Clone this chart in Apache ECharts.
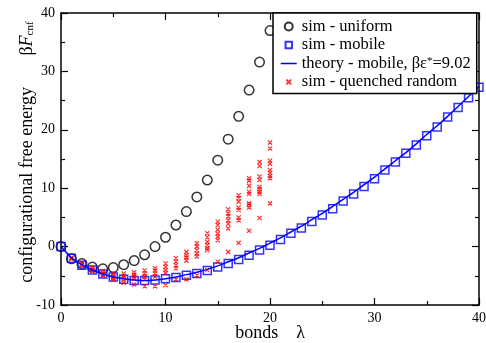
<!DOCTYPE html>
<html>
<head>
<meta charset="utf-8">
<script src="https://cdn.jsdelivr.net/npm/echarts@6/dist/echarts.min.js"></script>
<style>
  html, body { margin: 0; padding: 0; background: #fff; }
  #chart { width: 486px; height: 343px; }
</style>
</head>
<body>
<div id="chart"></div>
<script>
// sim - uniform, bonds 0..20
var uniformX = [0, 1, 2, 3, 4, 5, 6, 7, 8, 9, 10, 11, 12, 13, 14, 15, 16, 17, 18, 19, 20];
var uniformY = [0, -2.1, -2.9, -3.5, -3.8, -3.6, -3.1, -2.4, -1.4, 0, 1.6, 3.7, 6.0, 8.5, 11.4, 14.8, 18.4, 22.3, 26.8, 31.6, 37.0];

// sim - mobile, bonds 0..40
var mobileY = [0, -2.0, -3.2, -4.0, -4.7, -5.2, -5.6, -5.8, -5.8, -5.7, -5.5, -5.3, -4.9, -4.6, -4.1, -3.5, -2.9, -2.2, -1.5, -0.6,
  0.25, 1.2, 2.3, 3.2, 4.3, 5.4, 6.5, 7.8, 9.0, 10.3, 11.6, 13.1, 14.5, 16.0, 17.4, 19.0, 20.5, 22.2, 23.8, 25.5, 27.3];

// theory - mobile
var theoryY = [0, -1.9, -3.1, -4.0, -4.7, -5.2, -5.5, -5.7, -5.8, -5.7, -5.5, -5.2, -4.8, -4.4, -3.9, -3.3, -2.6, -1.9, -1.1, -0.3,
  0.6, 1.5, 2.5, 3.5, 4.6, 5.7, 6.9, 8.1, 9.3, 10.6, 11.9, 13.3, 14.7, 16.1, 17.6, 19.2, 20.7, 22.3, 24.0, 25.7, 27.4];

// sim - quenched random, several samples per bond count
var quenchedX = [1, 2, 3, 4, 5, 6, 7, 8, 9, 10, 11, 12, 13, 14, 15, 16, 17, 18, 19, 20];
var quenchedY = [
  [-2.0, -2.1, -1.9],
  [-2.8, -3.0, -3.2, -3.1],
  [-3.6, -3.9, -4.1, -4.2, -4.0],
  [-4.2, -4.5, -4.7, -4.9, -5.0],
  [-4.6, -5.0, -5.2, -5.4, -5.7],
  [-4.6, -5.0, -5.3, -5.6, -6.2],
  [-4.4, -4.8, -5.1, -5.5, -6.5],
  [-4.1, -4.6, -5.1, -5.6, -6.8],
  [-3.7, -4.1, -4.6, -5.1, -6.8],
  [-2.9, -3.5, -4.0, -4.5, -6.6],
  [-2.0, -2.6, -3.2, -3.7, -5.6],
  [-0.9, -1.5, -1.85, -2.4, -5.6],
  [0.55, 0, -0.6, -1.2, -1.7, -4.9],
  [2.3, 1.6, 0.8, 0.25, -0.3, -0.6, -4.0],
  [4.25, 3.7, 2.9, 2.2, 1.7, 1.1, -2.6],
  [6.4, 5.7, 5.2, 4.5, 3.9, 3.1, -0.9],
  [8.8, 8.3, 7.7, 6.7, 6.25, 5.0, 4.5, 0.65],
  [11.7, 11.3, 10.4, 9.4, 9.0, 7.4, 7.1, 6.7, 2.7],
  [14.5, 13.8, 12.0, 11.4, 10.2, 9.8, 9.4, 9.0, 4.9],
  [17.8, 16.8, 14.7, 14.2, 13.1, 12.6, 12.1, 11.7, 7.4]
];

var xTicks = [0, 10, 20, 30, 40];
var yTicks = [-10, 0, 10, 20, 30, 40];

var names = ['sim - uniform', 'sim - mobile', 'theory - mobile, βε*=9.02', 'sim - quenched random'];

var uniformData = uniformX.map(function (x, i) { return [x, uniformY[i]]; });
var mobileData = mobileY.map(function (y, i) { return [i, y]; });
var theoryData = theoryY.map(function (y, i) { return [i, y]; });
var quenchedData = [];
quenchedX.forEach(function (x, i) {
  quenchedY[i].forEach(function (y) { quenchedData.push([x, y]); });
});

var font = 'Liberation Serif';
var crossPath = 'path://M2 2L8 8M8 2L2 8M0 0L0.01 0M10 10L9.99 10';
var squarePath = 'path://M1 1H9V9H1ZM0 0L0.01 0M10 10L9.99 10';
var linePath = 'path://M0 0L0.01 0M0 4L16 4M0 8L0.01 8';

function axisBase(showLabel) {
  return {
    axisLine: { onZero: false, lineStyle: { color: '#000', width: 1.5 } },
    axisTick: { inside: true, length: 7, lineStyle: { color: '#000', width: 1.2 } },
    minorTick: { show: true, splitNumber: 2, length: 4, lineStyle: { color: '#000', width: 1.2 } },
    splitLine: { show: false },
    axisLabel: { show: showLabel, color: '#000', fontFamily: font, fontSize: 14, margin: 6 }
  };
}

var chart = echarts.init(document.getElementById('chart'));

chart.setOption({
  animation: false,
  backgroundColor: '#fff',
  grid: { left: 61, right: 7, top: 13, bottom: 38, containLabel: false, outerBoundsMode: 'none' },
  legend: {
    orient: 'vertical',
    left: 273,
    top: 13,
    padding: [5, 6, 3, 7],
    itemWidth: 16,
    itemHeight: 8,
    itemGap: 1.5,
    backgroundColor: '#fff',
    borderColor: '#000',
    borderWidth: 1.5,
    borderRadius: 0,
    textStyle: {
      fontFamily: font, fontSize: 16.5, color: '#000', lineHeight: 16,
      rich: { sup: { fontFamily: font, fontSize: 11, verticalAlign: 'top', lineHeight: 12 } }
    },
    formatter: function (n) {
      return n === names[2] ? 'theory - mobile, βε{sup|*}=9.02' : n;
    },
    data: [
      { name: names[0], icon: 'circle' },
      { name: names[1], icon: squarePath },
      { name: names[2], icon: linePath, itemStyle: { color: 'rgba(0,0,0,0)', borderColor: '#0000ff', borderWidth: 1.5 } },
      { name: names[3], icon: crossPath }
    ]
  },
  xAxis: [
    Object.assign(axisBase(true), {
      type: 'value', position: 'bottom', min: xTicks[0], max: xTicks[xTicks.length - 1], interval: 10,
      name: 'bonds    λ', nameLocation: 'middle', nameGap: 19, nameMoveOverlap: false,
      nameTextStyle: { fontFamily: font, fontSize: 18, color: '#000' }
    }),
    Object.assign(axisBase(false), {
      type: 'value', position: 'top', min: xTicks[0], max: xTicks[xTicks.length - 1], interval: 10
    })
  ],
  yAxis: [
    Object.assign(axisBase(true), {
      type: 'value', position: 'left', min: yTicks[0], max: yTicks[yTicks.length - 1], interval: 10,
      name: 'configurational free energy       β{i|F}{s|cnf}', nameLocation: 'middle', nameGap: 25, nameMoveOverlap: false,
      nameTextStyle: {
        fontFamily: font, fontSize: 18, color: '#000', padding: [0, 0, 0, 14],
        rich: {
          i: { fontFamily: font, fontSize: 18, fontStyle: 'italic', color: '#000' },
          s: { fontFamily: font, fontSize: 11, color: '#000', verticalAlign: 'bottom', padding: [7, 0, 0, 0] }
        }
      }
    }),
    Object.assign(axisBase(false), {
      type: 'value', position: 'right', min: yTicks[0], max: yTicks[yTicks.length - 1], interval: 10
    })
  ],
  series: [
    {
      name: names[0], type: 'scatter', data: uniformData, symbol: 'circle', symbolSize: 9.5,
      itemStyle: { color: 'rgba(0,0,0,0)', borderColor: '#000', borderWidth: 1.5 }
    },
    {
      name: names[1], type: 'scatter', data: mobileData, symbol: 'rect', symbolSize: 8,
      itemStyle: { color: 'rgba(0,0,0,0)', borderColor: '#0000ff', borderWidth: 1.5 }
    },
    {
      name: names[2], type: 'line', data: theoryData, symbol: 'none', smooth: 0.3,
      lineStyle: { color: '#0000ff', width: 1.5 }, itemStyle: { color: '#0000ff' }
    },
    {
      name: names[3], type: 'scatter', data: quenchedData, symbol: crossPath, symbolSize: 7,
      itemStyle: { color: '#ff0000', borderColor: '#ff0000', borderWidth: 1.2 }
    }
  ]
});
</script>
</body>
</html>
